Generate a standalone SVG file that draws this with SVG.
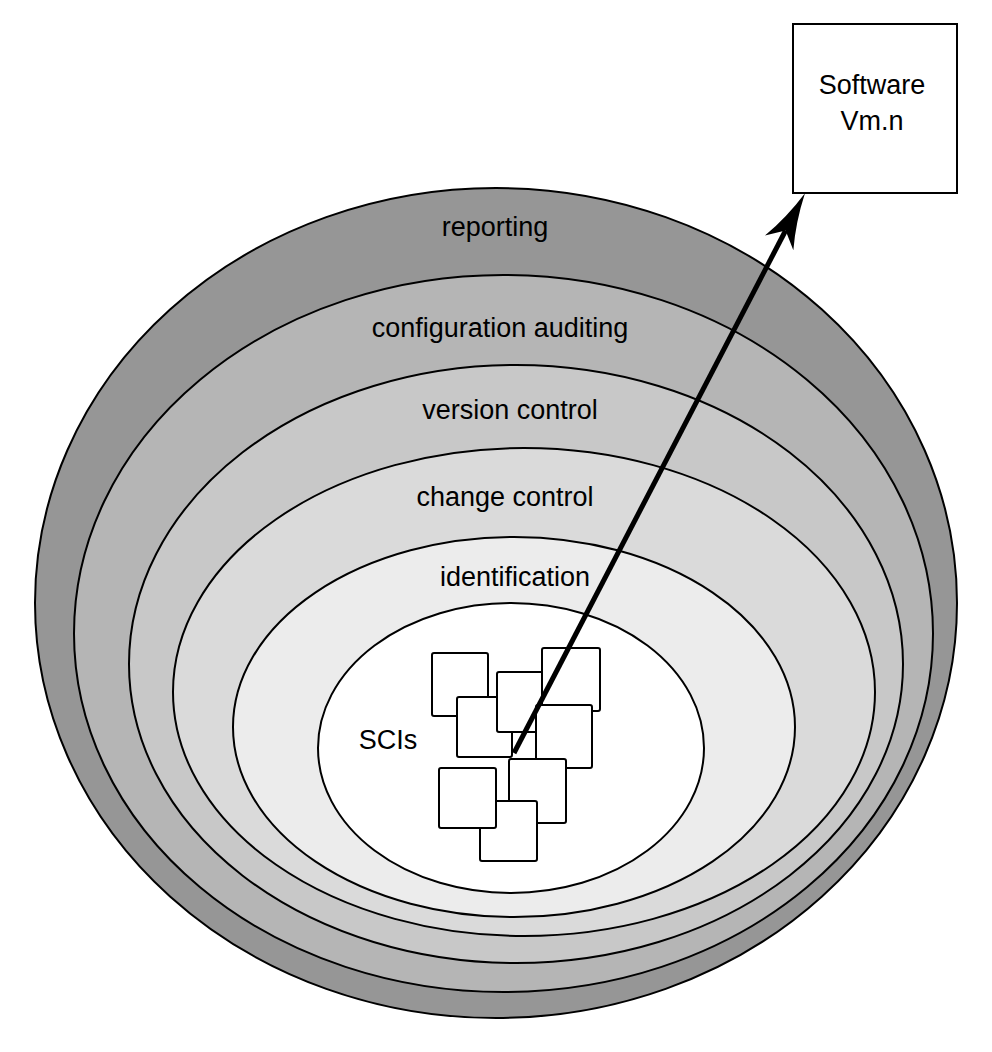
<svg xmlns="http://www.w3.org/2000/svg" width="992" height="1052" viewBox="0 0 992 1052">
<style>
.layer{stroke:#000;stroke-width:2}
.lbl{font-family:"Liberation Sans",Arial,sans-serif;font-size:27px;fill:#000;text-anchor:middle}
.sci{fill:#fff;stroke:#000;stroke-width:2}
.conn{stroke:#000;stroke-width:5;fill:none}
</style>
<defs>
<marker id="ah" markerUnits="userSpaceOnUse" markerWidth="60" markerHeight="40" viewBox="-16 -20 60 40" refX="0" refY="0" orient="auto">
<path d="M42,0 Q12,-5 -14,-16 L0,0 L-14,16 Q12,5 42,0 Z" fill="#000"/>
</marker>
</defs>
<rect width="992" height="1052" fill="#fff"/>
<g id="reporting">
<ellipse class="layer" cx="496" cy="603" rx="461" ry="415" fill="#969696"/>
<text class="lbl" x="495" y="236">reporting</text>
</g>
<g id="configuration-auditing">
<ellipse class="layer" cx="503.5" cy="633.5" rx="429.5" ry="358.5" fill="#b5b5b5"/>
<text class="lbl" x="500" y="337">configuration auditing</text>
</g>
<g id="version-control">
<ellipse class="layer" cx="516" cy="664" rx="387" ry="299" fill="#c8c8c8"/>
<text class="lbl" x="510" y="419">version control</text>
</g>
<g id="change-control">
<ellipse class="layer" cx="524" cy="692" rx="351" ry="244" fill="#dadada"/>
<text class="lbl" x="505" y="506">change control</text>
</g>
<g id="identification">
<ellipse class="layer" cx="514" cy="727" rx="281" ry="190" fill="#ececec"/>
<text class="lbl" x="515" y="586">identification</text>
</g>
<g id="scis">
<ellipse class="layer" cx="511" cy="748" rx="193" ry="145" fill="#fff"/>
<text class="lbl" x="388" y="749">SCIs</text>
<rect class="sci" x="432" y="653" width="56" height="63" rx="2"/>
<rect class="sci" x="457" y="697" width="55" height="60" rx="2"/>
<rect class="sci" x="497" y="672" width="56" height="60" rx="2"/>
<rect class="sci" x="542" y="648" width="58" height="63" rx="2"/>
<rect class="sci" x="536" y="705" width="56" height="63" rx="2"/>
<rect class="sci" x="509" y="759" width="57" height="64" rx="2"/>
<rect class="sci" x="480" y="801" width="57" height="60" rx="2"/>
<rect class="sci" x="439" y="768" width="57" height="60" rx="2"/>
</g>
<g id="software">
<rect x="793" y="24" width="164" height="169" fill="#fff" stroke="#000" stroke-width="2"/>
<text class="lbl" x="872" y="94">Software</text>
<text class="lbl" x="872" y="130">Vm.n</text>
</g>
<g id="connectors">
<line class="conn" x1="514" y1="753" x2="785.6" y2="230.5" marker-end="url(#ah)"/>
</g>
</svg>
